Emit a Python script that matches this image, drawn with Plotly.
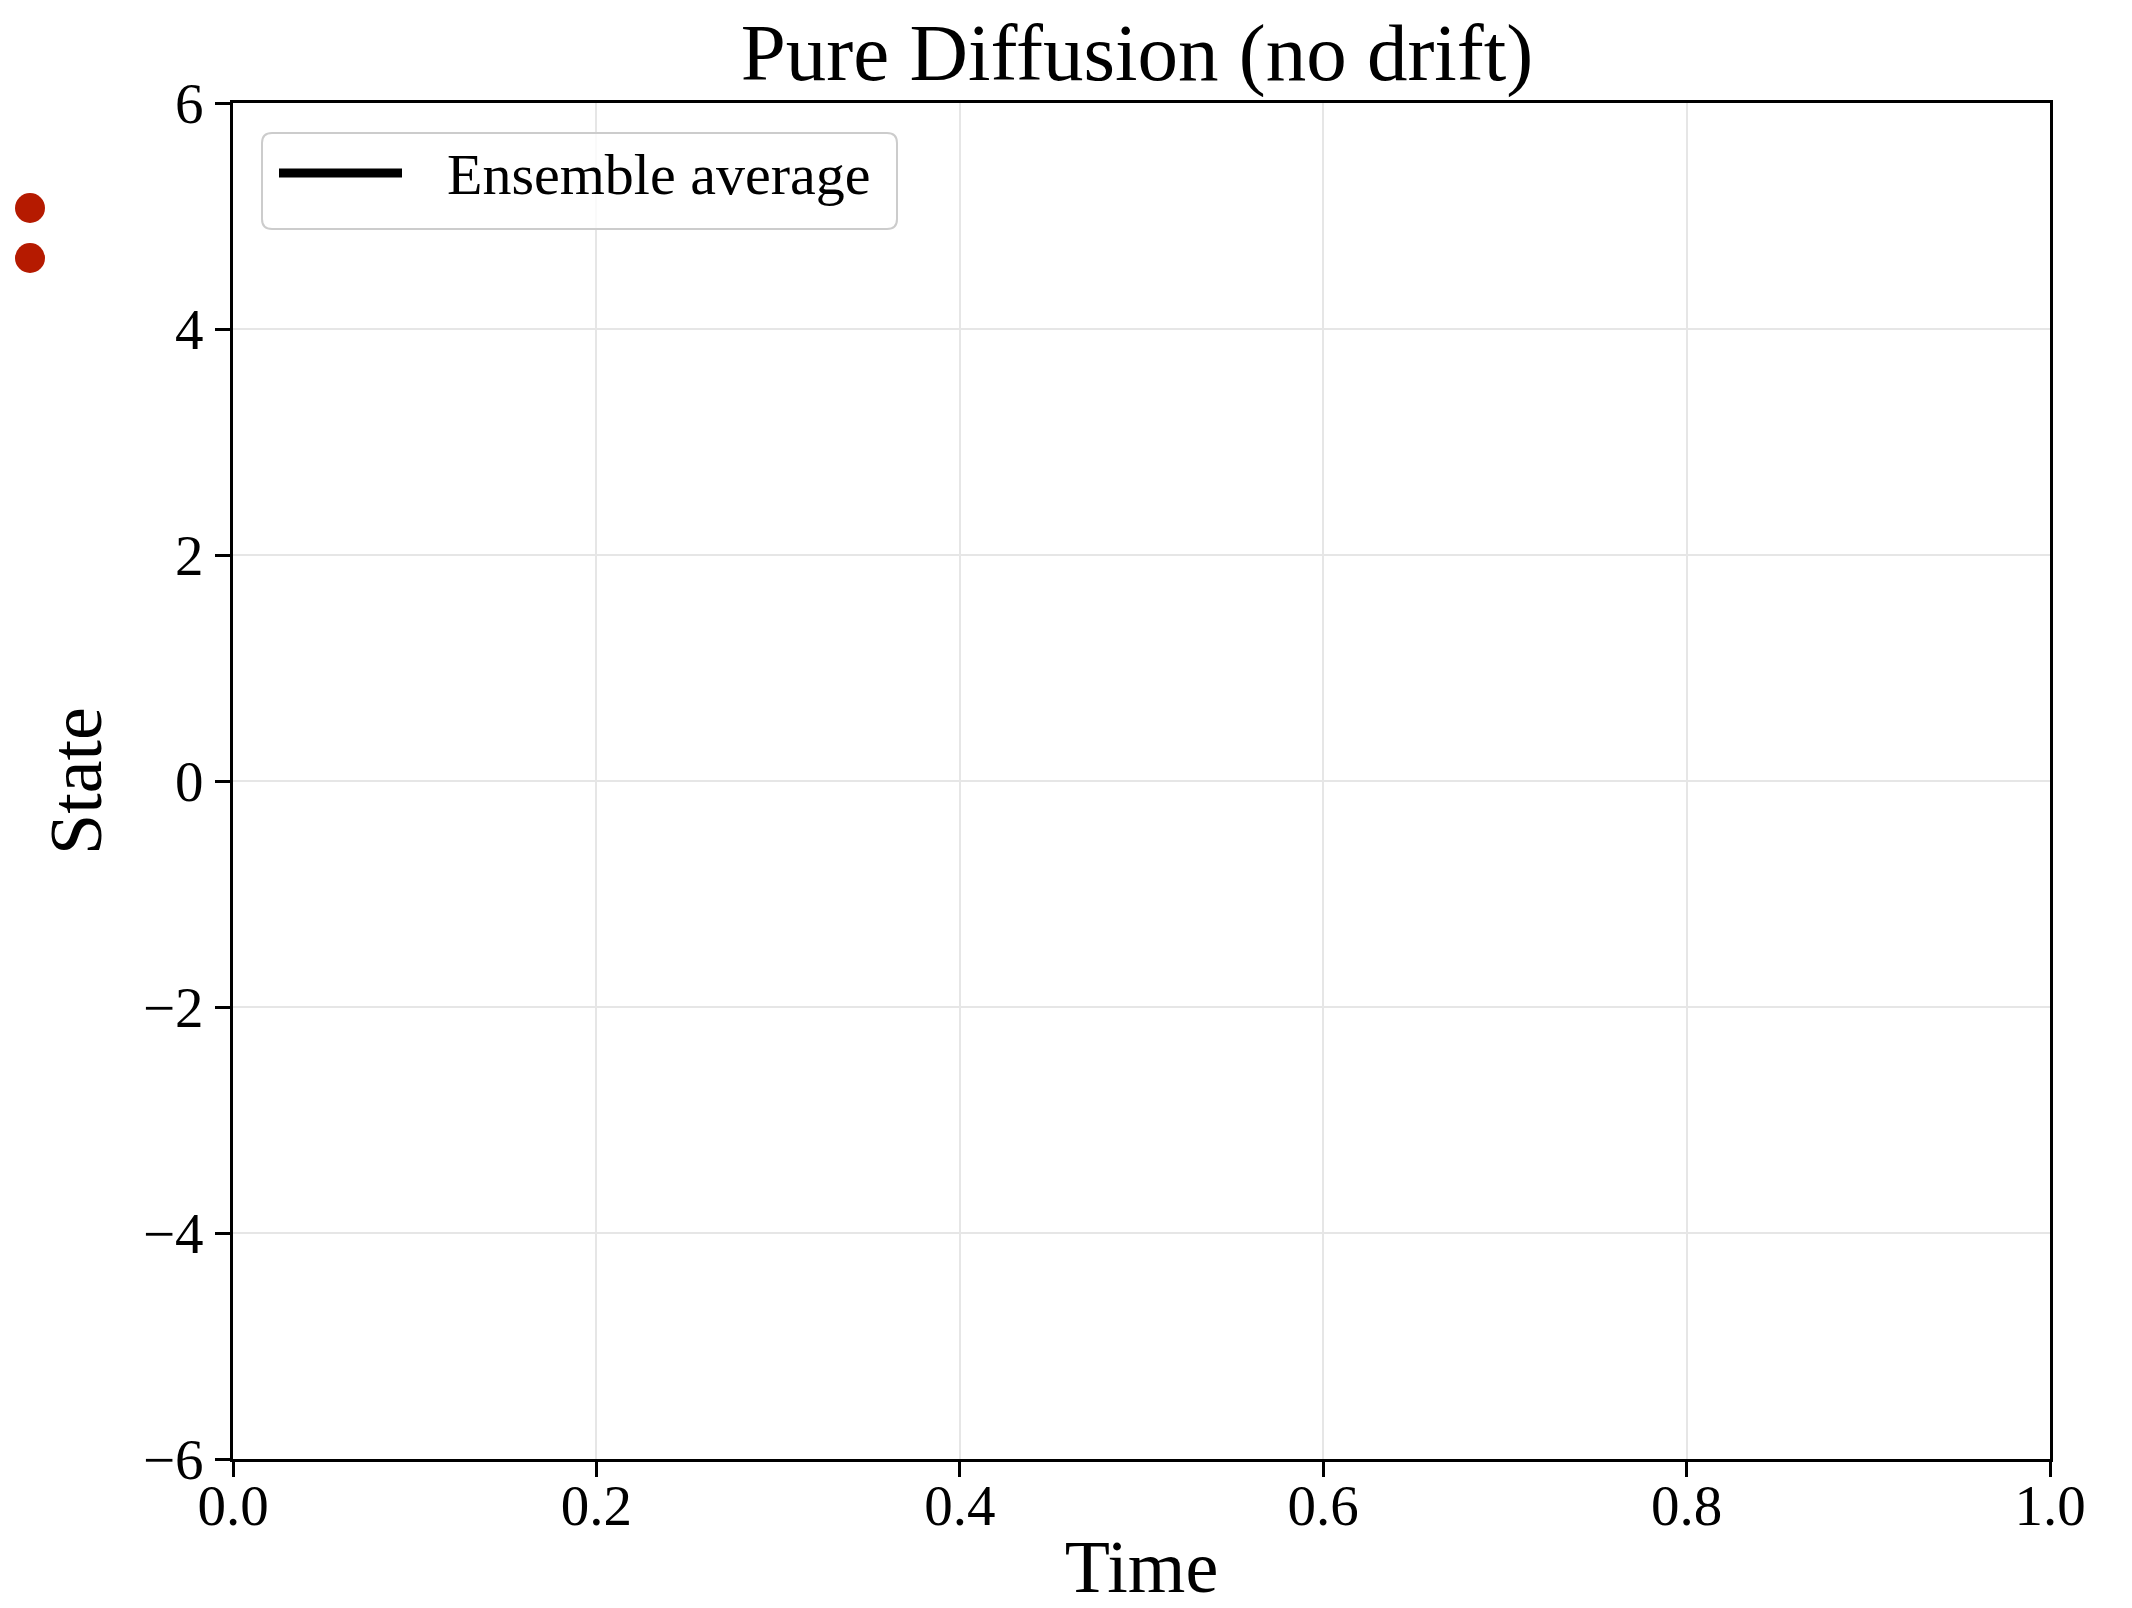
import plotly.graph_objects as go

# Data (ensemble average has no visible values in the reference)
time = [0.0, 1.0]
ensemble_avg = [None, None]
series_name = "Ensemble average"

x_ticks = [0.0, 0.2, 0.4, 0.6, 0.8, 1.0]
x_ticklabels = ["0.0", "0.2", "0.4", "0.6", "0.8", "1.0"]
y_ticks = [-6, -4, -2, 0, 2, 4, 6]
y_ticklabels = ["\u22126", "\u22124", "\u22122", "0", "2", "4", "6"]

FONT = "Liberation Serif"

fig = go.Figure()
fig.add_trace(go.Scatter(
    x=time, y=ensemble_avg, mode="lines", name=series_name,
    line=dict(color="black", width=9), showlegend=False,
))

# the page body has an 8px default margin: size the figure to fit the window
OFF = 8
W, H = 2132 - OFF, 1608 - OFF
L, R, T, B = 233 - OFF, 82, 103 - OFF, 149
pw, ph = W - L - R, H - T - B

def px_x(sx):  # screenshot x -> paper
    return (sx - OFF - L) / pw

def px_y(sy):  # screenshot y -> paper
    return (H - B - (sy - OFF)) / ph

fig.update_layout(
    width=W, height=H,
    margin=dict(l=L, r=R, t=T, b=B, pad=0, autoexpand=False),
    paper_bgcolor="white", plot_bgcolor="white",
    font=dict(family=FONT, color="black", size=56),
    title=dict(text="Pure Diffusion (no drift)", x=px_x(1137), xref="paper",
               xanchor="center", y=1 - 44 / H, yref="container", yanchor="middle",
               automargin=False,
               font=dict(family=FONT, size=81, color="black")),
    showlegend=False,
    xaxis=dict(range=[0, 1], tickvals=x_ticks, ticktext=x_ticklabels, automargin=False,
               showline=True, linecolor="black", linewidth=3, mirror=True,
               ticks="outside", ticklen=15, tickwidth=3, tickcolor="black",
               ticklabelstandoff=-20,
               showgrid=True, gridcolor="#e6e6e6", gridwidth=2, zeroline=False,
               tickfont=dict(family=FONT, size=57),
               title=dict(text="Time", font=dict(family=FONT, size=74), standoff=18)),
    yaxis=dict(range=[-6, 6], tickvals=y_ticks, ticktext=y_ticklabels, automargin=False,
               showline=True, linecolor="black", linewidth=3, mirror=True,
               ticks="outside", ticklen=15, tickwidth=3, tickcolor="black",
               showgrid=True, gridcolor="#e6e6e6", gridwidth=2, zeroline=False,
               tickfont=dict(family=FONT, size=57),
               title=dict(text="State", font=dict(family=FONT, size=74), standoff=18)),
)

# Legend box (rounded), sample line and label, drawn in the top-left corner
bx0, bx1, by0, by1, rad = 262, 897, 133, 229, 10
path = (
    f"M {px_x(bx0 + rad)},{px_y(by0)} L {px_x(bx1 - rad)},{px_y(by0)} "
    f"Q {px_x(bx1)},{px_y(by0)} {px_x(bx1)},{px_y(by0 + rad)} "
    f"L {px_x(bx1)},{px_y(by1 - rad)} "
    f"Q {px_x(bx1)},{px_y(by1)} {px_x(bx1 - rad)},{px_y(by1)} "
    f"L {px_x(bx0 + rad)},{px_y(by1)} "
    f"Q {px_x(bx0)},{px_y(by1)} {px_x(bx0)},{px_y(by1 - rad)} "
    f"L {px_x(bx0)},{px_y(by0 + rad)} "
    f"Q {px_x(bx0)},{px_y(by0)} {px_x(bx0 + rad)},{px_y(by0)} Z"
)
fig.add_shape(type="path", path=path, xref="paper", yref="paper",
              fillcolor="rgba(255,255,255,0.8)", line=dict(color="#cccccc", width=2),
              layer="above")
fig.add_shape(type="line", xref="paper", yref="paper",
              x0=px_x(279), x1=px_x(402), y0=px_y(173), y1=px_y(173),
              line=dict(color="black", width=9), layer="above")
fig.add_annotation(text=series_name, xref="paper", yref="paper",
                   x=px_x(445), y=px_y(175), xanchor="left", yanchor="middle",
                   showarrow=False, font=dict(family=FONT, size=58, color="black"))

# Two red dots at the far left edge of the picture
for cy in (208, 258):
    fig.add_shape(type="circle", xref="paper", yref="paper",
                  xsizemode="pixel", ysizemode="pixel",
                  xanchor=px_x(30), yanchor=px_y(cy),
                  x0=-15, x1=15, y0=-15, y1=15,
                  fillcolor="#b51a00", line=dict(width=0), layer="above")

fig.write_html("out.html")
